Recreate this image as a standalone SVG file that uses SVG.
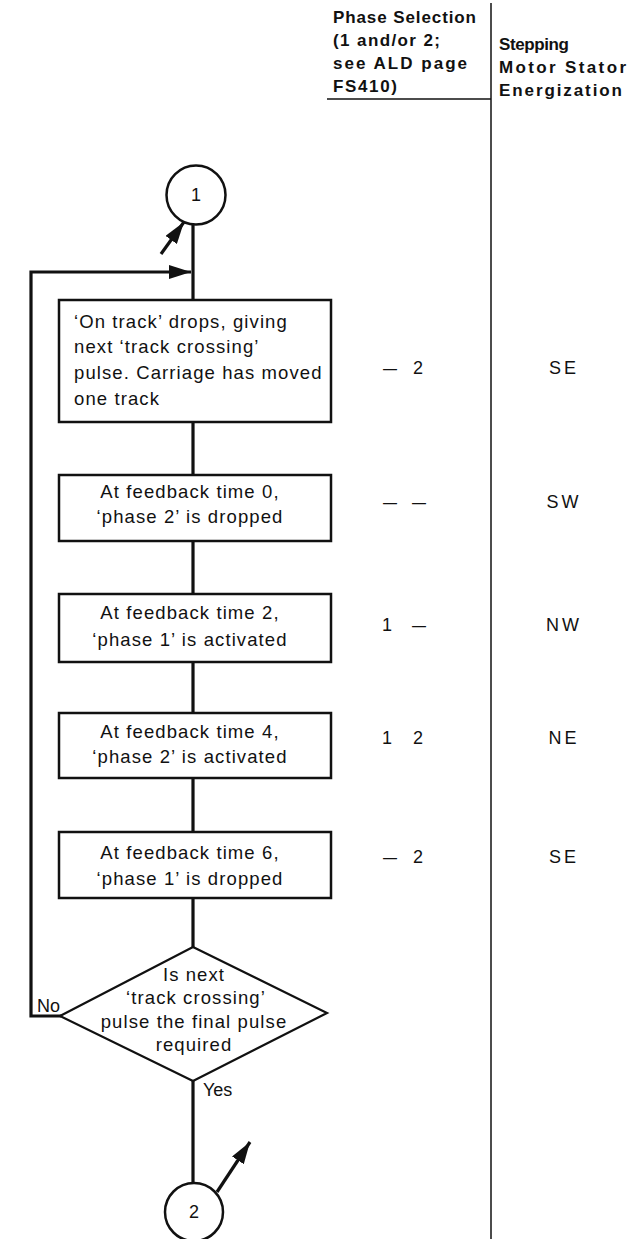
<svg xmlns="http://www.w3.org/2000/svg" width="627" height="1239" viewBox="0 0 627 1239">
<style>
.hdr{font-family:"Liberation Sans",Arial,sans-serif;font-weight:bold;font-size:17px;fill:#111}
.t{font-family:"Liberation Sans",Arial,sans-serif;font-size:18.5px;letter-spacing:1.1px;fill:#111}
.v{font-family:"Liberation Sans",Arial,sans-serif;font-size:18px;fill:#111}
.c{text-anchor:middle}
.box{fill:#fff;stroke:#111;stroke-width:2.5}
.ln{fill:none;stroke:#111;stroke-width:3.2}
.thin{fill:none;stroke:#111;stroke-width:1.5}
</style>
<defs>
<marker id="ah" markerWidth="22" markerHeight="14" refX="22" refY="7" orient="auto" markerUnits="userSpaceOnUse">
<path d="M0,0 L22,7 L0,14 Z" fill="#111"/>
</marker>
</defs>
<rect width="627" height="1239" fill="#fff"/>
<g id="table">
<line x1="491" y1="3" x2="491" y2="1239" class="thin"/>
<line x1="327" y1="99" x2="491" y2="99" class="thin"/>
<text class="hdr" x="333" y="23" textLength="143" lengthAdjust="spacing">Phase Selection</text>
<text class="hdr" x="333" y="46" textLength="107" lengthAdjust="spacing">(1 and/or 2;</text>
<text class="hdr" x="333" y="69" textLength="134" lengthAdjust="spacing">see ALD page</text>
<text class="hdr" x="333" y="92" textLength="64" lengthAdjust="spacing">FS410)</text>
<text class="hdr" x="499" y="50" textLength="70" lengthAdjust="spacing">Stepping</text>
<text class="hdr" x="499" y="73" textLength="127" lengthAdjust="spacing">Motor Stator</text>
<text class="hdr" x="499" y="96" textLength="123" lengthAdjust="spacing">Energization</text>
</g>
<g id="connectors">
<line class="ln" x1="193" y1="225" x2="193" y2="300"/>
<polyline class="ln" points="61,1016 31,1016 31,272 191,272" marker-end="url(#ah)"/>
<line class="ln" x1="193" y1="422" x2="193" y2="475"/>
<line class="ln" x1="193" y1="541" x2="193" y2="594"/>
<line class="ln" x1="193" y1="662" x2="193" y2="713"/>
<line class="ln" x1="193" y1="778" x2="193" y2="832"/>
<line class="ln" x1="193" y1="898" x2="193" y2="947"/>
<line class="ln" x1="193" y1="1081" x2="193" y2="1183"/>
<line class="ln" x1="161" y1="254" x2="184" y2="222" marker-end="url(#ah)"/>
<line class="ln" x1="217" y1="1192" x2="250" y2="1142" marker-end="url(#ah)"/>
</g>
<g id="c1">
<circle cx="196" cy="195" r="29.5" fill="#fff" stroke="#111" stroke-width="2.5"/>
<text class="v c" x="196" y="201">1</text>
</g>
<g id="b1">
<rect class="box" x="59" y="300" width="272" height="122"/>
<text class="t" x="74" y="328">‘On track’ drops, giving</text>
<text class="t" x="74" y="353">next ‘track crossing’</text>
<text class="t" x="74" y="379">pulse. Carriage has moved</text>
<text class="t" x="74" y="405">one track</text>
</g>
<g id="b2">
<rect class="box" x="59" y="475" width="272" height="66"/>
<text class="t c" x="190" y="498">At feedback time 0,</text>
<text class="t c" x="190" y="523">‘phase 2’ is dropped</text>
</g>
<g id="b3">
<rect class="box" x="59" y="594" width="272" height="68"/>
<text class="t c" x="190" y="619">At feedback time 2,</text>
<text class="t c" x="190" y="646">‘phase 1’ is activated</text>
</g>
<g id="b4">
<rect class="box" x="59" y="713" width="272" height="65"/>
<text class="t c" x="190" y="738">At feedback time 4,</text>
<text class="t c" x="190" y="763">‘phase 2’ is activated</text>
</g>
<g id="b5">
<rect class="box" x="59" y="832" width="272" height="66"/>
<text class="t c" x="190" y="859">At feedback time 6,</text>
<text class="t c" x="190" y="885">‘phase 1’ is dropped</text>
</g>
<g id="d1">
<polygon points="193,947 327,1013 193,1081 60,1016" fill="#fff" stroke="#111" stroke-width="2.2"/>
<text class="t c" x="194" y="981">Is next</text>
<text class="t c" x="196" y="1004">‘track crossing’</text>
<text class="t c" x="194" y="1028">pulse the final pulse</text>
<text class="t c" x="194" y="1051">required</text>
<text class="v" x="37" y="1012">No</text>
<text class="v" x="203" y="1096">Yes</text>
</g>
<g id="c2">
<circle cx="194" cy="1212" r="29" fill="#fff" stroke="#111" stroke-width="2.5"/>
<text class="v c" x="194" y="1218">2</text>
</g>
<g id="values">
<text class="v c" x="390" y="374" textLength="14" lengthAdjust="spacingAndGlyphs">—</text>
<text class="v c" x="418" y="374">2</text>
<text class="v c" x="564" y="374" letter-spacing="3">SE</text>
<text class="v c" x="390" y="508" textLength="14" lengthAdjust="spacingAndGlyphs">—</text>
<text class="v c" x="419" y="508" textLength="14" lengthAdjust="spacingAndGlyphs">—</text>
<text class="v c" x="564" y="508" letter-spacing="3">SW</text>
<text class="v c" x="387" y="631">1</text>
<text class="v c" x="419" y="631" textLength="14" lengthAdjust="spacingAndGlyphs">—</text>
<text class="v c" x="564" y="631" letter-spacing="3">NW</text>
<text class="v c" x="387" y="744">1</text>
<text class="v c" x="418" y="744">2</text>
<text class="v c" x="564" y="744" letter-spacing="3">NE</text>
<text class="v c" x="390" y="863" textLength="14" lengthAdjust="spacingAndGlyphs">—</text>
<text class="v c" x="418" y="863">2</text>
<text class="v c" x="564" y="863" letter-spacing="3">SE</text>
</g>
</svg>
